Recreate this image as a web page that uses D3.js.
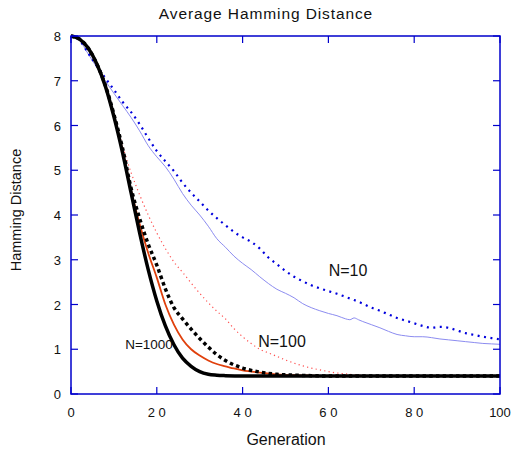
<!DOCTYPE html>
<html><head><meta charset="utf-8">
<script src="https://cdn.jsdelivr.net/npm/d3@7"></script>
<style>body{margin:0;background:#fff}svg{display:block}text{font-family:"Liberation Sans",Arial,sans-serif;fill:#111}</style>
</head><body>
<script>
// Data (Generation, Hamming distance)
const genBlackSolid = [0,2,4,6,8,10,12,14,16,18,20,22,24,26,28,30,32,34,36,40,50,60,70,80,90,100];
const valBlackSolid = [8,7.93,7.73,7.38,6.88,6.2,5.4,4.5,3.6,2.78,2.08,1.52,1.1,0.8,0.62,0.5,0.44,0.42,0.41,0.40,0.40,0.40,0.40,0.40,0.40,0.40];

const genBlackDot = [0,2,4,6,8,10,12,14,16,18,20,22,24,26,28,30,32,34,36,38,40,44,48,52,56,60,70,80,90,100];
const valBlackDot = [8,7.93,7.73,7.38,6.9,6.25,5.5,4.6,3.92,3.35,2.88,2.35,1.93,1.68,1.45,1.24,1.05,0.88,0.75,0.65,0.58,0.49,0.44,0.42,0.41,0.40,0.40,0.40,0.40,0.40];

const genOrange = [0,2,4,6,8,10,12,14,16,18,20,22,24,26,28,30,32,34,36,38,40,44,48,52,56,60,70,80,90,100];
const valOrange = [8,7.93,7.73,7.38,6.89,6.22,5.45,4.55,3.8,3.15,2.6,2.0,1.55,1.22,1.0,0.86,0.75,0.67,0.62,0.57,0.53,0.48,0.44,0.42,0.41,0.40,0.40,0.40,0.40,0.40];

const genRedDot = [0,2,4,6,8,10,12,14,16,18,20,22,24,26,28,30,32,34,36,38,40,42,44,46,48,50,52,54,56,58,60,62,64,66,68,70,72,80,90,100];
const valRedDot = [8,7.93,7.74,7.4,6.95,6.22,5.55,4.95,4.45,4.0,3.6,3.25,2.95,2.72,2.48,2.25,2.04,1.85,1.68,1.46,1.28,1.13,1.0,0.92,0.84,0.76,0.69,0.63,0.58,0.54,0.5,0.47,0.45,0.43,0.42,0.41,0.40,0.40,0.40,0.40];

const genBlueDot = [0,2,4,6,8,10,12,14,16,18,20,22,24,26,28,30,32,34,36,38,40,42,44,46,48,50,52,54,56,58,60,62,64,66,68,70,72,74,76,78,80,82,84,86,88,90,92,94,96,98,100];
const valBlueDot = [8,7.9,7.62,7.33,7.06,6.8,6.53,6.3,6.03,5.72,5.43,5.2,4.98,4.72,4.5,4.3,4.1,3.93,3.77,3.62,3.5,3.4,3.25,3.05,2.9,2.75,2.62,2.52,2.43,2.36,2.3,2.24,2.17,2.1,2.02,1.93,1.86,1.78,1.7,1.64,1.58,1.52,1.48,1.5,1.48,1.42,1.36,1.32,1.28,1.25,1.22];

const genBlueSolid = [0,2,4,6,8,10,12,14,16,18,20,22,24,26,28,30,32,34,36,38,40,42,44,46,48,50,52,54,56,58,60,62,64,65,66,67,68,70,72,74,76,78,80,82,84,86,88,90,92,94,96,98,100];
const valBlueSolid = [8,7.9,7.6,7.3,7.0,6.72,6.45,6.18,5.88,5.55,5.3,5.08,4.8,4.48,4.22,4.0,3.75,3.47,3.28,3.08,2.92,2.78,2.62,2.47,2.34,2.25,2.15,2.02,1.93,1.86,1.8,1.75,1.68,1.66,1.7,1.66,1.62,1.55,1.48,1.4,1.33,1.3,1.28,1.28,1.26,1.23,1.21,1.19,1.17,1.15,1.13,1.12,1.11];

const xTicks = [0,20,40,60,80,100];
const xTickLabels = ["0","2 0","4 0","6 0","8 0","100"];
const yTicks = [0,1,2,3,4,5,6,7,8];

const W = 512, H = 450;
const svg = d3.select("body").append("svg").attr("width", W).attr("height", H);
const x = d3.scaleLinear().domain([0,100]).range([71,500]);
const y = d3.scaleLinear().domain([0,8]).range([394,36]);
const axisColor = "#0000cc";

function zip(g, v){ return g.map((d,i)=>[d, v[i]]); }
const line = d3.line().x(d=>x(d[0])).y(d=>y(d[1])).curve(d3.curveMonotoneX);

const plot = svg.append("g");
plot.append("path").attr("d", line(zip(genBlueSolid,valBlueSolid))).attr("fill","none").attr("stroke","#8c8cf0").attr("stroke-width",1);
plot.append("path").attr("d", line(zip(genBlueDot,valBlueDot))).attr("fill","none").attr("stroke","#0000dd").attr("stroke-width",2.2).attr("stroke-dasharray","2,4.5");
plot.append("path").attr("d", line(zip(genRedDot,valRedDot))).attr("fill","none").attr("stroke","#ff5050").attr("stroke-width",1.2).attr("stroke-dasharray","1.2,3.2");
plot.append("path").attr("d", line(zip(genOrange,valOrange))).attr("fill","none").attr("stroke","#e0400c").attr("stroke-width",1.8);
plot.append("path").attr("d", line(zip(genBlackDot,valBlackDot))).attr("fill","none").attr("stroke","#000").attr("stroke-width",3.5).attr("stroke-dasharray","3.5,3.2");
plot.append("path").attr("d", line(zip(genBlackSolid,valBlackSolid))).attr("fill","none").attr("stroke","#000").attr("stroke-width",3.5);

svg.append("rect").attr("x",71).attr("y",36).attr("width",429).attr("height",358).attr("fill","none").attr("stroke",axisColor).attr("stroke-width",1.5);

const gx = svg.append("g");
xTicks.forEach((t,i)=>{
  gx.append("line").attr("x1",x(t)).attr("x2",x(t)).attr("y1",394).attr("y2",387).attr("stroke",axisColor).attr("stroke-width",1.2);
  gx.append("line").attr("x1",x(t)).attr("x2",x(t)).attr("y1",36).attr("y2",43).attr("stroke",axisColor).attr("stroke-width",1.2);
  gx.append("text").attr("x",x(t)).attr("y",417).attr("text-anchor","middle").attr("font-size",13).text(xTickLabels[i]);
});
const gy = svg.append("g");
yTicks.forEach(t=>{
  gy.append("line").attr("x1",71).attr("x2",78).attr("y1",y(t)).attr("y2",y(t)).attr("stroke",axisColor).attr("stroke-width",1.2);
  gy.append("line").attr("x1",500).attr("x2",493).attr("y1",y(t)).attr("y2",y(t)).attr("stroke",axisColor).attr("stroke-width",1.2);
  gy.append("text").attr("x",61).attr("y",y(t)+5).attr("text-anchor","end").attr("font-size",13).text(t);
});

svg.append("text").attr("x",266).attr("y",19).attr("text-anchor","middle").attr("font-size",15.5).attr("letter-spacing",0.9).text("Average Hamming Distance");
svg.append("text").attr("x",286).attr("y",445).attr("text-anchor","middle").attr("font-size",16).text("Generation");
svg.append("text").attr("transform","translate(21,210) rotate(-90)").attr("text-anchor","middle").attr("font-size",14.5).text("Hamming Distance");

svg.append("text").attr("x",348).attr("y",276).attr("text-anchor","middle").attr("font-size",16).text("N=10");
svg.append("text").attr("x",282).attr("y",347).attr("text-anchor","middle").attr("font-size",16).text("N=100");
svg.append("text").attr("x",149).attr("y",349).attr("text-anchor","middle").attr("font-size",13.5).text("N=1000");
</script>
</body></html>
